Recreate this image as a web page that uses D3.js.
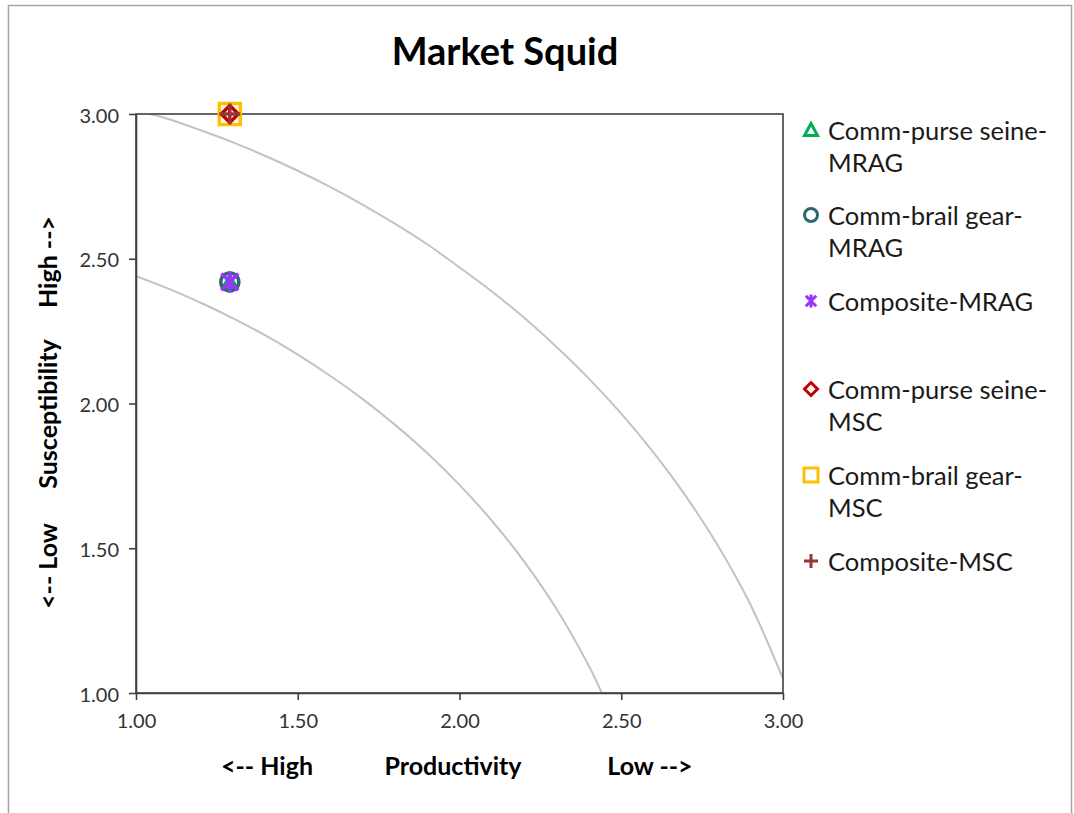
<!DOCTYPE html>
<html>
<head>
<meta charset="utf-8">
<script src="https://cdn.jsdelivr.net/npm/d3@7"></script>
<style>
  html, body { margin: 0; padding: 0; background: #fff; }
  svg { display: block; }
  text { font-family: Lato, "Open Sans", sans-serif; }
</style>
</head>
<body>
<svg id="chart" width="1074" height="813"></svg>
<script>
// ---- data ----
const chartTitle = "Market Squid";
const seriesNames = ["Comm-purse seine-MRAG", "Comm-brail gear-MRAG", "Composite-MRAG",
                     "Comm-purse seine-MSC", "Comm-brail gear-MSC", "Composite-MSC"];
const legendLines = [["Comm-purse seine-", "MRAG"], ["Comm-brail gear-", "MRAG"], ["Composite-MRAG"],
                     ["Comm-purse seine-", "MSC"], ["Comm-brail gear-", "MSC"], ["Composite-MSC"]];
const productivity = [1.29, 1.29, 1.29, 1.29, 1.29, 1.29];
const susceptibility = [2.42, 2.42, 2.42, 3.00, 3.00, 3.00];
const xTicks = [1.00, 1.50, 2.00, 2.50, 3.00];
const yTicks = [1.00, 1.50, 2.00, 2.50, 3.00];
const xTitleParts = ["<-- High", "Productivity", "Low -->"];
const yTitleParts = ["<-- Low", "Susceptibility", "High -->"];
// reference curves
const outerCurveX = [1.043, 1.10, 1.20, 1.30, 1.40, 1.50, 1.60, 1.70, 1.80, 1.90, 2.00, 2.10, 2.20, 2.30, 2.40, 2.50, 2.60, 2.70, 2.80, 2.90, 3.00];
const outerCurveY = [3.000, 2.983, 2.944, 2.902, 2.855, 2.804, 2.748, 2.687, 2.621, 2.550, 2.470, 2.387, 2.296, 2.195, 2.086, 1.965, 1.830, 1.679, 1.507, 1.304, 1.050];
const innerCurveX = [1.00, 1.10, 1.20, 1.30, 1.40, 1.50, 1.60, 1.70, 1.80, 1.90, 2.00, 2.10, 2.20, 2.30, 2.40, 2.44];
const innerCurveY = [2.440, 2.397, 2.348, 2.294, 2.235, 2.169, 2.096, 2.016, 1.927, 1.829, 1.719, 1.595, 1.454, 1.290, 1.093, 1.000];

// ---- styles ----
const colors = ["#00b050", "#2f6670", "#9933ff", "#c00000", "#ffc000", "#953735"];
const axisColor = "#404040";

const svg = d3.select("#chart");
svg.append("rect").attr("x", 0).attr("y", 0).attr("width", 1074).attr("height", 813).attr("fill", "#fff");
// outer chart border
svg.append("rect").attr("x", 8.5).attr("y", 5.5).attr("width", 1063).attr("height", 820)
  .attr("fill", "none").attr("stroke", "#a6a6a6").attr("stroke-width", 1.5);

const plot = { left: 136, right: 783, top: 114, bottom: 693 };
const x = d3.scaleLinear().domain([1, 3]).range([plot.left, plot.right]);
const y = d3.scaleLinear().domain([1, 3]).range([plot.bottom, plot.top]);

// title
svg.append("text").attr("x", 505).attr("y", 50).attr("text-anchor", "middle")
  .attr("dominant-baseline", "central").attr("font-weight", "bold").attr("font-size", 38)
  .attr("fill", "#000").text(chartTitle);

// curves
const line = d3.line().x(d => x(d[0])).y(d => y(d[1])).curve(d3.curveCatmullRom);
svg.append("clipPath").attr("id", "clip").append("rect")
  .attr("x", plot.left).attr("y", plot.top).attr("width", plot.right - plot.left).attr("height", plot.bottom - plot.top);
[[outerCurveX, outerCurveY], [innerCurveX, innerCurveY]].forEach(([cx, cy]) => {
  svg.append("path").datum(cx.map((v, i) => [v, cy[i]]))
    .attr("d", line).attr("fill", "none").attr("stroke", "#c3c3c3").attr("stroke-width", 2)
    .attr("clip-path", "url(#clip)");
});

// plot frame
svg.append("rect").attr("x", plot.left).attr("y", plot.top)
  .attr("width", plot.right - plot.left).attr("height", plot.bottom - plot.top)
  .attr("fill", "none").attr("stroke", axisColor).attr("stroke-width", 1.6);

// axes
const xAxis = d3.axisBottom(x).tickValues(xTicks).tickFormat(d3.format(".2f")).tickSize(7).tickSizeOuter(0);
const yAxis = d3.axisLeft(y).tickValues(yTicks).tickFormat(d3.format(".2f")).tickSize(7).tickSizeOuter(0);
const gx = svg.append("g").attr("transform", `translate(0,${plot.bottom})`).call(xAxis);
const gy = svg.append("g").attr("transform", `translate(${plot.left},0)`).call(yAxis);
[gx, gy].forEach(g => {
  g.select(".domain").attr("stroke", axisColor).attr("stroke-width", 1.6);
  g.selectAll(".tick line").attr("stroke", axisColor).attr("stroke-width", 1.6);
  g.selectAll(".tick text").attr("font-family", "Lato, sans-serif").attr("font-size", 20).attr("fill", "#333");
});
gx.selectAll(".tick text").attr("dy", null).attr("y", 27).attr("dominant-baseline", "central");
gy.selectAll(".tick text").attr("dy", null).attr("x", -17).attr("dominant-baseline", "central");

// axis titles
const xTitleX = [267, 453, 650];
xTitleParts.forEach((t, i) => {
  svg.append("text").attr("x", xTitleX[i]).attr("y", 765).attr("text-anchor", "middle")
    .attr("dominant-baseline", "central").attr("font-weight", "bold").attr("font-size", 25)
    .attr("fill", "#000").text(t);
});
const yTitleY = [566, 414, 262];
yTitleParts.forEach((t, i) => {
  svg.append("text").attr("transform", `translate(47,${yTitleY[i]}) rotate(-90)`)
    .attr("text-anchor", "middle").attr("dominant-baseline", "central")
    .attr("font-weight", "bold").attr("font-size", 25).attr("fill", "#000").text(t);
});

// marker shapes
const asterisk = { draw(ctx, size) {
  const r = Math.sqrt(size) / 2;
  ctx.moveTo(0, -r); ctx.lineTo(0, r);
  ctx.moveTo(-r * 0.8, -r * 0.8); ctx.lineTo(r * 0.8, r * 0.8);
  ctx.moveTo(-r * 0.8, r * 0.8); ctx.lineTo(r * 0.8, -r * 0.8);
}};
const plus = { draw(ctx, size) {
  const r = Math.sqrt(size) / 2;
  ctx.moveTo(0, -r); ctx.lineTo(0, r);
  ctx.moveTo(-r, 0); ctx.lineTo(r, 0);
}};
const diamond = { draw(ctx, size) {
  const r = Math.sqrt(size) / 2;
  ctx.moveTo(0, -r); ctx.lineTo(r, 0); ctx.lineTo(0, r); ctx.lineTo(-r, 0); ctx.closePath();
}};
const square = { draw(ctx, size) {
  const r = Math.sqrt(size) / 2;
  ctx.rect(-r, -r, 2 * r, 2 * r);
}};
const triangle = { draw(ctx, size) {
  const r = Math.sqrt(size) / 2;
  ctx.moveTo(0, -r); ctx.lineTo(r, r * 0.85); ctx.lineTo(-r, r * 0.85); ctx.closePath();
}};
const circle = { draw(ctx, size) {
  const r = Math.sqrt(size) / 2;
  ctx.moveTo(r, 0); ctx.arc(0, 0, r, 0, 2 * Math.PI);
}};
const shapes = [triangle, circle, asterisk, diamond, square, plus];
const plotSizes = [14, 18, 21, 17, 21, 21];
const legendSizes = [13, 13, 13, 13, 14, 14];
const plotStroke = [3, 3.5, 3.5, 3.5, 3.5, 3.5];

// points
productivity.forEach((p, i) => {
  svg.append("path")
    .attr("d", d3.symbol(shapes[i], plotSizes[i] * plotSizes[i])())
    .attr("transform", `translate(${x(p)},${y(susceptibility[i])})`)
    .attr("fill", "none").attr("stroke", colors[i]).attr("stroke-width", plotStroke[i]);
});

// legend
const legendY = [130, 215, 301, 389, 475, 561];
const lineH = 32;
seriesNames.forEach((name, i) => {
  const g = svg.append("g").attr("transform", `translate(0,${legendY[i]})`);
  g.append("path").attr("d", d3.symbol(shapes[i], legendSizes[i] * legendSizes[i])())
    .attr("transform", "translate(811,0)")
    .attr("fill", "none").attr("stroke", colors[i]).attr("stroke-width", 3);
  legendLines[i].forEach((t, j) => {
    g.append("text").attr("x", 828).attr("y", j * lineH).attr("dominant-baseline", "central")
      .attr("font-size", 25.5).attr("fill", "#1a1a1a").text(t);
  });
});
</script>
</body>
</html>
